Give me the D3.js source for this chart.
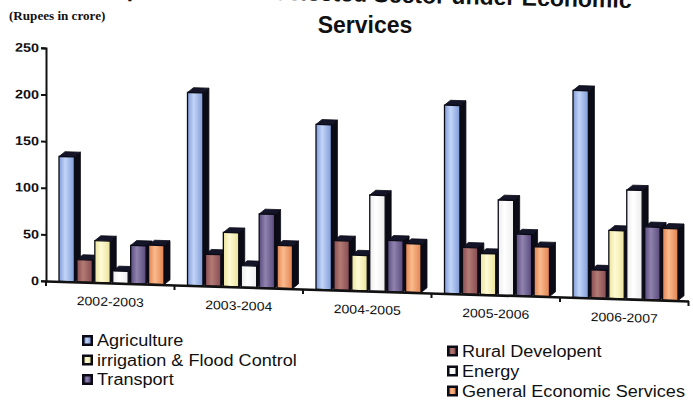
<!DOCTYPE html>
<html>
<head>
<meta charset="utf-8">
<script src="https://cdn.jsdelivr.net/npm/d3@7"></script>
<style>
  html, body { margin: 0; padding: 0; background: #ffffff; }
  svg { display: block; }
</style>
</head>
<body>
<div id="chart"></div>
<script>
// ---------- DATA ----------
const categories = ["2002-2003", "2003-2004", "2004-2005", "2005-2006", "2006-2007"];
const seriesNames = ["Agriculture", "Rural Developent", "irrigation & Flood Control", "Energy", "Transport", "General Economic Services"];
const agriculture = [134, 207, 177, 202, 222];
const ruralDevelopment = [24, 34, 53, 50, 30];
const irrigation = [45, 58, 38, 44, 73];
const energy = [13, 23, 103, 102, 117];
const transport = [41, 79, 55, 66, 78];
const generalEconomic = [42, 46, 52, 53, 77];
const yTicks = [0, 50, 100, 150, 200, 250];
const titleLine1 = "Expenditure on Selected Sector under Economic";
const titleLine2 = "Services";
const unitLabel = "(Rupees in crore)";
// legend order as laid out in the picture (two columns)
const legendLeft = ["Agriculture", "irrigation & Flood Control", "Transport"];
const legendRight = ["Rural Developent", "Energy", "General Economic Services"];

const seriesValues = [agriculture, ruralDevelopment, irrigation, energy, transport, generalEconomic];

// ---------- STYLE ----------
const colors = {
  "Agriculture": ["#7f9bd9", "#c3d5f7"],
  "Rural Developent": ["#874c52", "#b37b74"],
  "irrigation & Flood Control": ["#ebe29a", "#fffbd6"],
  "Energy": ["#ececec", "#ffffff"],
  "Transport": ["#584a7c", "#9083ae"],
  "General Economic Services": ["#e2824f", "#fabb8e"]
};
const dark = "#0b0b16";

const W = 693, H = 407;
const svg = d3.select("#chart").append("svg").attr("width", W).attr("height", H);
const defs = svg.append("defs");
seriesNames.forEach((s, i) => {
  const g = defs.append("linearGradient").attr("id", "grad" + i)
    .attr("x1", "0%").attr("x2", "100%").attr("y1", "0%").attr("y2", "0%");
  g.append("stop").attr("offset", "0%").attr("stop-color", colors[s][0]);
  g.append("stop").attr("offset", "40%").attr("stop-color", colors[s][1]);
  g.append("stop").attr("offset", "100%").attr("stop-color", colors[s][0]);
});

function stext(parent, x, y, str, o) {
  return parent.append("text")
    .attr("transform", `translate(${x},${y}) scale(${o.sx || 1},1)`)
    .attr("text-anchor", o.anchor || "start")
    .attr("font-family", o.family || "'Liberation Sans', Arial, sans-serif")
    .attr("font-size", o.size)
    .attr("font-weight", o.weight || "normal")
    .attr("fill", o.fill || "#111")
    .text(str);
}

// ---------- SCALES ----------
const x0 = 46, xEnd = 688.5;
const xScale = d3.scaleBand().domain(categories).range([x0, xEnd]).padding(0);
const inner = d3.scaleBand().domain(seriesNames).range([13, 118]).paddingInner(0.14).paddingOuter(0);
const yScale = d3.scaleLinear().domain([0, 250]).range([281, 48]);

// plot group with the slight slant seen in the photographed original
const k = 0.031;
const plot = svg.append("g").attr("transform", `matrix(1,${k},0,1,0,${-k * x0})`);

// ---------- BARS ----------
const dx = 6, dy = 5;
const base = yScale(0);
const bars = [];
categories.forEach((c, ci) => {
  seriesNames.forEach((s, si) => {
    bars.push({ c, s, si, v: seriesValues[si][ci] });
  });
});
const bw = inner.bandwidth();
bars.forEach(d => {
  const x = xScale(d.c) + inner(d.s);
  const top = yScale(d.v);
  const g = plot.append("g");
  // side face
  g.append("polygon")
    .attr("points", [[x + bw, top], [x + bw + dx, top - dy], [x + bw + dx, base - dy], [x + bw, base]].map(p => p.join(",")).join(" "))
    .attr("fill", dark).attr("stroke", dark).attr("stroke-width", 0.8);
  // top face
  g.append("polygon")
    .attr("points", [[x, top], [x + dx, top - dy], [x + bw + dx, top - dy], [x + bw, top]].map(p => p.join(",")).join(" "))
    .attr("fill", "#15152a").attr("stroke", dark).attr("stroke-width", 0.8);
  // front face
  g.append("rect")
    .attr("x", x).attr("y", top).attr("width", bw).attr("height", base - top)
    .attr("fill", `url(#grad${d.si})`).attr("stroke", dark).attr("stroke-width", 1.3);
});

// ---------- AXES ----------
// y axis
const yAxis = plot.append("g").attr("transform", `translate(${x0},0)`)
  .call(d3.axisLeft(yScale).tickValues(yTicks).tickSize(5).tickFormat(""));
yAxis.select(".domain").attr("stroke", "#111").attr("stroke-width", 2);
yAxis.selectAll(".tick line").attr("stroke", "#111").attr("stroke-width", 2);
yTicks.forEach(t => {
  stext(plot, 39, yScale(t) + 4.5, String(t), { size: 12.5, weight: "bold", anchor: "end", sx: 1.15 });
});

// x axis (baseline + category boundary ticks)
const xAxis = plot.append("g").attr("transform", `translate(0,${base})`)
  .call(d3.axisBottom(xScale).tickSize(0).tickFormat(""));
xAxis.select(".domain").attr("stroke", "#111").attr("stroke-width", 2.5);
const boundaries = categories.map(c => xScale(c)).concat([xEnd]);
plot.selectAll(".bnd").data(boundaries).enter().append("line")
  .attr("x1", d => d).attr("x2", d => d)
  .attr("y1", base).attr("y2", base + 5)
  .attr("stroke", "#111").attr("stroke-width", 2);
categories.forEach(c => {
  stext(plot, xScale(c) + xScale.bandwidth() / 2, 304, c, { size: 12.5, anchor: "middle", sx: 1.12 });
});

// ---------- TITLES ----------
const tg = svg.append("g").attr("transform", "rotate(1.3,635,8)");
stext(tg, 365, 8, titleLine1, { size: 23, weight: "bold", anchor: "middle" });
stext(svg, 365, 33, titleLine2, { size: 23, weight: "bold", anchor: "middle" });
stext(svg, 9, 20, unitLabel, { size: 12.5, weight: "bold", family: "'Liberation Serif', 'Times New Roman', serif", sx: 1.05 });

// ---------- LEGEND ----------
function legendItem(x, y, name) {
  const idx = seriesNames.indexOf(name);
  svg.append("rect").attr("x", x).attr("y", y - 11).attr("width", 11).attr("height", 11).attr("fill", dark);
  svg.append("rect").attr("x", x + 2.5).attr("y", y - 8.5).attr("width", 6).attr("height", 6).attr("fill", `url(#grad${idx})`);
  stext(svg, x + 15, y, name, { size: 16, sx: 1.13 });
}
legendLeft.forEach((n, i) => legendItem(82, 346 + i * 19.5, n));
legendRight.forEach((n, i) => legendItem(447, 356.5 + i * 20, n));
</script>
</body>
</html>
